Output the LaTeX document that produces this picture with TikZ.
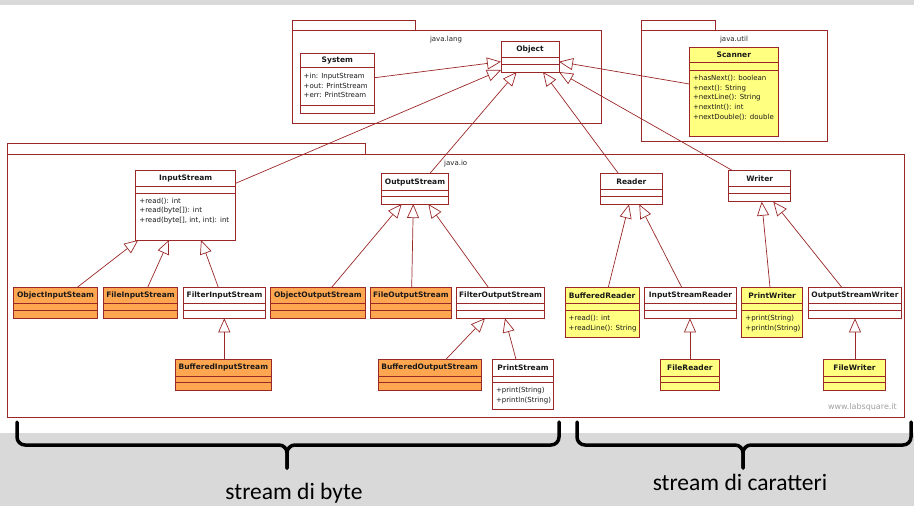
\documentclass[tikz,border=0pt]{standalone}
\usepackage{fontspec}
\setmainfont{DejaVu Sans}
\newfontfamily\calib{Carlito}
\usetikzlibrary{arrows.meta,calc}
\definecolor{uml}{RGB}{155,40,40}
\definecolor{orng}{RGB}{255,166,80}
\definecolor{yllw}{RGB}{255,255,128}
\definecolor{bggray}{RGB}{217,217,217}
\definecolor{wmgray}{RGB}{160,160,160}
\tikzset{
 cls/.style={draw=uml, line width=0.8pt, inner sep=0pt, outer sep=0pt, rectangle},
 clsline/.style={draw=uml, line width=0.8pt},
 ttl/.style={font=\fontsize{7.5}{9}\selectfont\bfseries, inner sep=0pt, text=black!90},
 meth/.style={font=\fontsize{7}{9.7}\selectfont, inner sep=0pt, align=left, anchor=north west, text=black!90},
 gen/.style={draw=uml, line width=0.7pt, -{Triangle[open, length=14pt, width=12pt, fill=white]}},
 pkg/.style={draw=uml, line width=0.8pt},
 pkglabel/.style={font=\fontsize{7}{8}\selectfont, inner sep=0pt, text=black!85},
 bracestyle/.style={line width=3.5pt, rounded corners=8pt, line cap=round},
 bracelabel/.style={font=\calib\fontsize{23.5}{26}\selectfont, inner sep=0pt},
}
% name, x1, y1, x2, y2, fill, title, sep1, sep2
\newcommand\umlclass[9]{%
 \node[cls, fill=#6, minimum width={(#4-#2)*1pt}, minimum height={(#5-#3)*1pt}] (#1) at ({(#2+#4)/2},{(#3+#5)/2}) {};
 \draw[clsline] ($(#1.north west)+(0,#8)$) -- ($(#1.north east)+(0,#8)$);
 \draw[clsline] ($(#1.north west)+(0,#9)$) -- ($(#1.north east)+(0,#9)$);
 \node[ttl] (#1t) at ($(#1.north)+(0,#8/2)$) {#7};
}
\begin{document}
\begin{tikzpicture}[x=1pt,y=-1pt]
\useasboundingbox (0,0) rectangle (914,506);
\fill[bggray] (0,0) rectangle (914,506);
\fill[white] (0,5) rectangle (914,433.3);

% packages
\draw[pkg] (292,20.7) rectangle (415,30.7);
\draw[pkg] (292,30.7) rectangle (601.7,123);
\node[pkglabel] (lang) at (446,40) {java.lang};
\draw[pkg] (641.7,20.7) rectangle (715,30.7);
\draw[pkg] (641.7,30.7) rectangle (827,141.7);
\node[pkglabel] (util) at (734,40) {java.util};
\draw[pkg] (7.3,143.3) rectangle (365.7,154);
\draw[pkg] (7.3,154) rectangle (904,417.7);
\node[pkglabel] (io) at (455.7,163.3) {java.io};
\node[font=\fontsize{8}{9}\selectfont, text=wmgray, inner sep=0pt, anchor=east] (wm) at (897,407.7) {www.labsquare.it};

% classes
\umlclass{obj}{501}{41.7}{559}{72}{white}{Object}{16}{22.6}
\umlclass{sys}{300}{53.3}{374.7}{113.3}{white}{System}{14}{52.4}
\node[meth] (sysa) at ($(sys.north west)+(3.5,19.5)$) {+in: InputStream\\+out: PrintStream\\+err: PrintStream};
\umlclass{scan}{689.3}{47.3}{778.3}{136.7}{yllw}{Scanner}{15.4}{22.7}
\node[meth] (scanm) at ($(scan.north west)+(3.5,27.5)$) {+hasNext(): boolean\\+next(): String\\+nextLine(): String\\+nextInt(): int\\+nextDouble(): double};

\umlclass{is}{135.7}{170.7}{235.7}{240}{white}{InputStream}{16}{22.6}
\node[meth] (ism) at ($(is.north west)+(3.5,27)$) {+read(): int\\+read(byte[]): int\\+read(byte[], int, int): int};
\umlclass{os}{381.7}{173.3}{448.3}{204}{white}{OutputStream}{17.4}{23.4}
\umlclass{rd}{600}{173.3}{662.7}{204.3}{white}{Reader}{16}{23.4}
\umlclass{wr}{728.7}{170.7}{790.7}{201.7}{white}{Writer}{16}{22.6}

\umlclass{ois}{13.3}{287.3}{97.7}{318.3}{orng}{ObjectInputSteam}{16}{23.4}
\umlclass{fis}{103.3}{287.3}{177.7}{318.3}{orng}{FileInputStream}{16}{23.4}
\umlclass{filis}{183.3}{287.3}{265.7}{318.3}{white}{FilterInputStream}{16}{23.4}
\umlclass{oos}{270.7}{287.3}{365}{318.3}{orng}{ObjectOutputStream}{16}{23.4}
\umlclass{fos}{370.7}{287.3}{451}{318.3}{orng}{FileOutputStream}{16}{23.4}
\umlclass{filos}{456.7}{287.3}{544.3}{318.3}{white}{FilterOutputStream}{16}{23.4}
\umlclass{br}{565}{287.3}{639.3}{337.3}{yllw}{BufferedReader}{16}{23.4}
\node[meth] (brm) at ($(br.north west)+(3.5,28)$) {+read(): int\\+readLine(): String};
\umlclass{isr}{644.3}{287.3}{736.7}{318.3}{white}{InputStreamReader}{16}{23.4}
\umlclass{pw}{741.7}{287.3}{802.7}{337.3}{yllw}{PrintWriter}{16}{23.4}
\node[meth] (pwm) at ($(pw.north west)+(3.5,28)$) {+print(String)\\+println(String)};
\umlclass{osw}{808.3}{287.3}{901.7}{318.3}{white}{OutputStreamWriter}{16}{23.4}

\umlclass{bis}{175}{359.3}{271.7}{390}{orng}{BufferedInputStream}{16.7}{23.4}
\umlclass{bos}{378.3}{359.3}{481}{390}{orng}{BufferedOutputStream}{16.7}{23.4}
\umlclass{ps}{492.3}{359.3}{553.7}{409.3}{white}{PrintStream}{16.7}{23.4}
\node[meth] (psm) at ($(ps.north west)+(3.5,28)$) {+print(String)\\+println(String)};
\umlclass{fr}{660.7}{359.3}{719}{390}{yllw}{FileReader}{16.7}{23.4}
\umlclass{fw}{823.3}{359.3}{885.7}{390}{yllw}{FileWriter}{16.7}{23.4}

% generalizations
\draw[gen] ($(sys.north west)+(74.7,24.4)$) -- ($(obj.north west)+(0,20)$);
\draw[gen] ($(is.north west)+(100,12.6)$) -- ($(obj.north west)+(0,28.3)$);
\draw[gen] ($(os.north west)+(48.3,0)$) -- ($(obj.north west)+(15.7,30.3)$);
\draw[gen] ($(rd.north west)+(18.3,0)$) -- ($(obj.north west)+(42,30.3)$);
\draw[gen] ($(wr.north west)+(4,0)$) -- ($(obj.north west)+(58,30.3)$);
\draw[gen] ($(scan.north west)+(0,36.7)$) -- ($(obj.north west)+(58,20)$);

\draw[gen] ($(ois.north west)+(64,0)$) -- ($(is.north west)+(2.6,69.3)$);
\draw[gen] ($(fis.north west)+(44.4,0)$) -- ($(is.north west)+(33.3,69.3)$);
\draw[gen] ($(filis.north west)+(35,0)$) -- ($(is.north west)+(65.3,69.3)$);
\draw[gen] ($(oos.north west)+(61,0)$) -- ($(os.north west)+(20,30.7)$);
\draw[gen] ($(fos.north west)+(41,0)$) -- ($(os.north west)+(31.6,30.7)$);
\draw[gen] ($(filos.north west)+(31.6,0)$) -- ($(os.north west)+(46.6,30.7)$);
\draw[gen] ($(br.north west)+(43.3,0)$) -- ($(rd.north west)+(29,31)$);
\draw[gen] ($(isr.north west)+(37.4,0)$) -- ($(rd.north west)+(39.3,31)$);
\draw[gen] ($(pw.north west)+(28.3,0)$) -- ($(wr.north west)+(33,31)$);
\draw[gen] ($(osw.north west)+(33.4,0)$) -- ($(wr.north west)+(44.6,31)$);

\draw[gen] ($(bis.north west)+(49.3,0)$) -- ($(filis.north west)+(41,31)$);
\draw[gen] ($(bos.north west)+(67.7,0)$) -- ($(filos.north west)+(28.3,31)$);
\draw[gen] ($(ps.north west)+(23.7,0)$) -- ($(filos.north west)+(48.3,31)$);
\draw[gen] ($(fr.north west)+(29.3,0)$) -- ($(isr.north west)+(45.7,31)$);
\draw[gen] ($(fw.north west)+(31.7,0)$) -- ($(osw.north west)+(46.7,31)$);

% braces
\draw[bracestyle] (17,422) -- (17,445) -- (287,445) -- (287,468);
\draw[bracestyle] (559,422) -- (559,445) -- (287,445) -- (287,468);
\draw[bracestyle] (577,422) -- (577,445) -- (743,445) -- (743,468);
\draw[bracestyle] (911,422) -- (911,445) -- (743,445) -- (743,468);
\node[bracelabel] (lb) at (294,493) {stream di byte};
\node[bracelabel] (lc) at (740,482) {stream di caratteri};
\end{tikzpicture}
\end{document}
